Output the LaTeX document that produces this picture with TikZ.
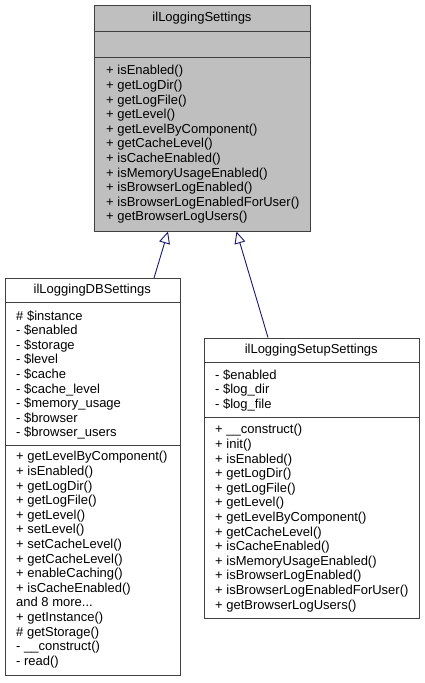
\documentclass[tikz,border=0pt]{standalone}
\usepackage{fontspec}
\setmainfont{Liberation Sans}
\usetikzlibrary{arrows.meta}
\definecolor{edgeblue}{HTML}{191970}
\definecolor{hdrgray}{HTML}{BFBFBF}
\definecolor{boxline}{HTML}{404040}
\newcommand{\umlfont}{\fontsize{13}{14.6}\selectfont}
\begin{document}
\begin{tikzpicture}[x=1pt,y=-1pt,
  classbox/.style={draw=boxline, line width=1pt, inner sep=0pt, anchor=north west},
  sepline/.style={draw=boxline, line width=1pt},
  classtitle/.style={font=\umlfont, inner sep=0pt, anchor=center},
  members/.style={font=\umlfont, inner sep=0pt, anchor=north west, align=left},
  inh/.style={draw=edgeblue, line width=0.9pt, -{Triangle[length=12pt, width=11pt, fill=white]}}
]
\useasboundingbox[fill=white] (0,0) rectangle (424,683);

% ---- base class ----
\node[classbox, fill=hdrgray, minimum width=216pt, minimum height=225.5pt] (base) at (94,5) {};
\draw[sepline] (94,31.5) -- (310,31.5);
\draw[sepline] (94,57.5) -- (310,57.5);
\node[classtitle] (baseT) at (202,18.2) {ilLoggingSettings};
\node[members] (baseM) at (106,65.2) {+ isEnabled()\\+ getLogDir()\\+ getLogFile()\\+ getLevel()\\+ getLevelByComponent()\\+ getCacheLevel()\\+ isCacheEnabled()\\+ isMemoryUsageEnabled()\\+ isBrowserLogEnabled()\\+ isBrowserLogEnabledForUser()\\+ getBrowserLogUsers()};

% ---- DB settings ----
\node[classbox, minimum width=175.5pt, minimum height=397pt] (db) at (4.5,278) {};
\draw[sepline] (4.5,302.5) -- (180,302.5);
\draw[sepline] (4.5,445.5) -- (180,445.5);
\node[classtitle] (dbT) at (92.25,290.5) {ilLoggingDBSettings};
\node[members] (dbA) at (16,310.2) {\# \$instance\\- \$enabled\\- \$storage\\- \$level\\- \$cache\\- \$cache\_level\\- \$memory\_usage\\- \$browser\\- \$browser\_users};
\node[members] (dbM) at (16,451.2) {+ getLevelByComponent()\\+ isEnabled()\\+ getLogDir()\\+ getLogFile()\\+ getLevel()\\+ setLevel()\\+ setCacheLevel()\\+ getCacheLevel()\\+ enableCaching()\\+ isCacheEnabled()\\and 8 more...\\+ getInstance()\\\# getStorage()\\- \_\_construct()\\- read()};

% ---- Setup settings ----
\node[classbox, minimum width=215.5pt, minimum height=280pt] (setup) at (203.5,337.5) {};
\draw[sepline] (203.5,362) -- (419,362);
\draw[sepline] (203.5,417) -- (419,417);
\node[classtitle] (setupT) at (311.25,349.7) {ilLoggingSetupSettings};
\node[members] (setupA) at (215,369.2) {- \$enabled\\- \$log\_dir\\- \$log\_file};
\node[members] (setupM) at (215,424.2) {+ \_\_construct()\\+ init()\\+ isEnabled()\\+ getLogDir()\\+ getLogFile()\\+ getLevel()\\+ getLevelByComponent()\\+ getCacheLevel()\\+ isCacheEnabled()\\+ isMemoryUsageEnabled()\\+ isBrowserLogEnabled()\\+ isBrowserLogEnabledForUser()\\+ getBrowserLogUsers()};

% ---- inheritance ----
\path (db.north west) ++(149.5,0) coordinate (dbTop);
\path (base.south west) ++(74,0) coordinate (baseL);
\path (setup.north west) ++(64.5,0) coordinate (setupTop);
\path (base.south west) ++(142.5,0) coordinate (baseR);
\draw[inh] (dbTop) -- (baseL);
\draw[inh] (setupTop) -- (baseR);
\end{tikzpicture}
\end{document}
